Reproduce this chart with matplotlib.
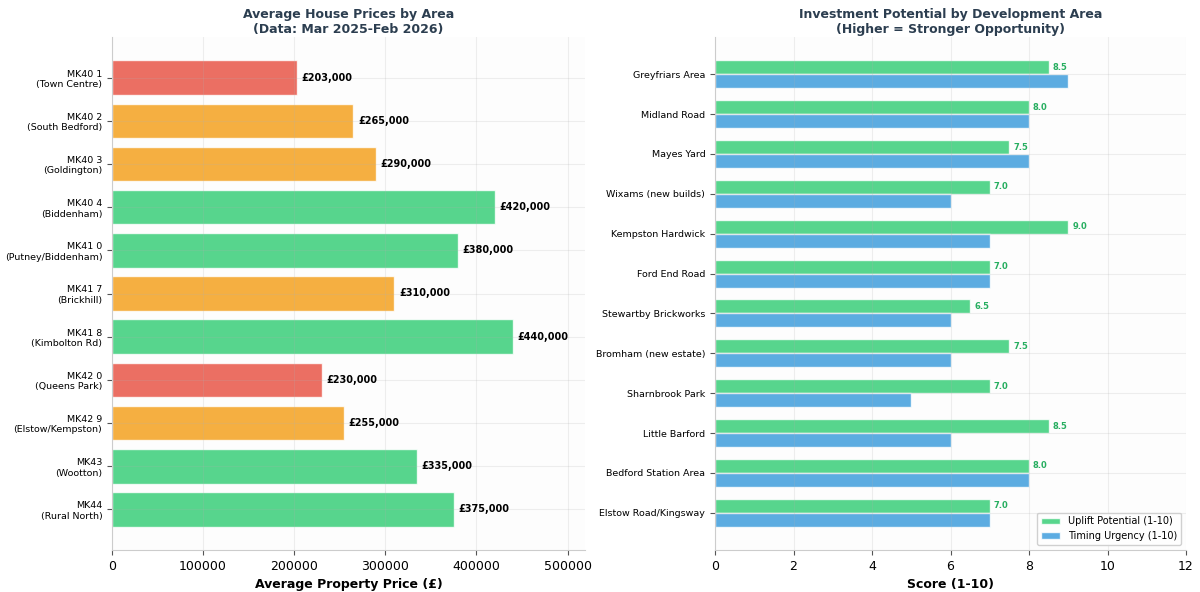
import matplotlib
matplotlib.use("Agg")
import matplotlib.pyplot as plt
import numpy as np

areas = ["MK40 1\n(Town Centre)", "MK40 2\n(South Bedford)", "MK40 3\n(Goldington)",
         "MK40 4\n(Biddenham)", "MK41 0\n(Putney/Biddenham)", "MK41 7\n(Brickhill)",
         "MK41 8\n(Kimbolton Rd)", "MK42 0\n(Queens Park)", "MK42 9\n(Elstow/Kempston)",
         "MK43\n(Wootton)", "MK44\n(Rural North)"]
prices = [203000, 265000, 290000, 420000, 380000, 310000, 440000, 230000, 255000, 335000, 375000]
price_tiers = ["low", "mid", "mid", "high", "high", "mid", "high", "low", "mid", "high", "high"]

dev_areas = ["Greyfriars Area", "Midland Road", "Mayes Yard", "Wixams (new builds)",
             "Kempston Hardwick", "Ford End Road", "Stewartby Brickworks",
             "Bromham (new estate)", "Sharnbrook Park", "Little Barford",
             "Bedford Station Area", "Elstow Road/Kingsway"]
uplift = [8.5, 8.0, 7.5, 7.0, 9.0, 7.0, 6.5, 7.5, 7.0, 8.5, 8.0, 7.0]
urgency = [9, 8, 8, 6, 7, 7, 6, 6, 5, 6, 8, 7]

tier_colors = {"low": "#e74c3c", "mid": "#f39c12", "high": "#2ecc71"}
title_color = "#2c3e50"

fig = plt.figure(figsize=(12, 5.92), dpi=100)
ax1 = fig.add_axes([112/1200, 1-550/592, (585-112)/1200, (550-37)/592])
ax2 = fig.add_axes([715/1200, 1-550/592, (1186-715)/1200, (550-37)/592])

for ax in (ax1, ax2):
    ax.set_facecolor("#fdfdfd")
    for s in ("top", "right"):
        ax.spines[s].set_visible(False)
    for s in ("left", "bottom"):
        ax.spines[s].set_color("#cccccc")
    ax.tick_params(axis="both", colors="#555555", labelcolor="black")
    ax.grid(True, alpha=0.2)

# Left chart
y1 = np.arange(len(areas))
cols = [tier_colors[t] for t in price_tiers]
ax1.barh(y1, prices, color=cols, alpha=0.8, edgecolor="white", linewidth=1, height=0.8)
ax1.set_yticks(y1)
ax1.set_yticklabels(areas, fontsize=6.8)
ax1.invert_yaxis()
ax1.set_xlim(0, max(prices) * 1.18)
ax1.tick_params(axis="x", labelsize=9)
for yy, p in zip(y1, prices):
    ax1.text(p + 5000, yy, f"£{p:,.0f}", va="center", ha="left", fontsize=7, fontweight="bold")
ax1.set_xlabel("Average Property Price (£)", fontsize=9, fontweight="bold")
ax1.set_title("Average House Prices by Area\n(Data: Mar 2025-Feb 2026)", fontsize=9,
              fontweight="bold", color=title_color, pad=3)

# Right chart
y2 = np.arange(len(dev_areas))
h = 0.35
ax2.barh(y2 - h/2, uplift, height=h, color="#2ecc71", alpha=0.8, edgecolor="white",
         linewidth=1, label="Uplift Potential (1-10)")
ax2.barh(y2 + h/2, urgency, height=h, color="#3498db", alpha=0.8, edgecolor="white",
         linewidth=1, label="Timing Urgency (1-10)")
ax2.set_yticks(y2)
ax2.set_yticklabels(dev_areas, fontsize=6.8)
ax2.invert_yaxis()
ax2.set_xlim(0, 12)
ax2.tick_params(axis="x", labelsize=9)
for yy, v in zip(y2, uplift):
    ax2.text(v + 0.1, yy - h/2, f"{v:.1f}", va="center", ha="left", fontsize=6,
             fontweight="bold", color="#27ae60")
ax2.set_xlabel("Score (1-10)", fontsize=9, fontweight="bold")
ax2.set_title("Investment Potential by Development Area\n(Higher = Stronger Opportunity)",
              fontsize=9, fontweight="bold", color=title_color, pad=3)
ax2.legend(loc="lower right", fontsize=7, framealpha=0.9)

fig.savefig("out.png", dpi=100)
